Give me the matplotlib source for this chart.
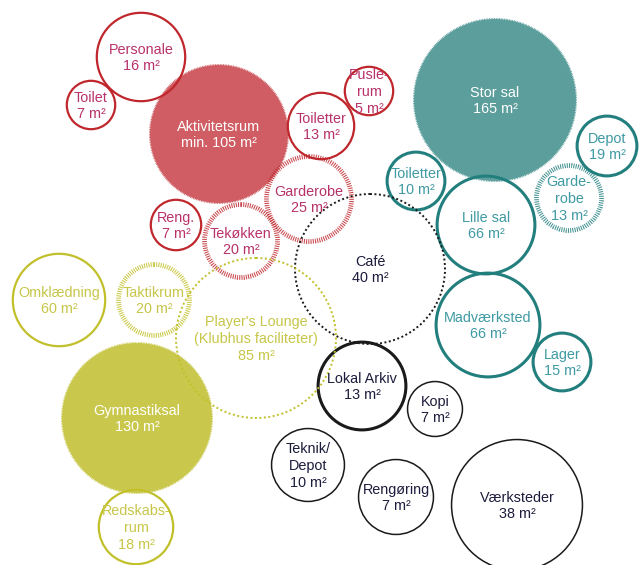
import matplotlib.pyplot as plt
from matplotlib.patches import Circle

# Room labels and areas (m²) per group
labels = ['Personale', 'Toilet', 'Aktivitetsrum', 'Pusle-\nrum', 'Toiletter', 'Garderobe', 'Tekøkken', 'Reng.',
          'Stor sal', 'Depot', 'Toiletter', 'Lille sal', 'Garde-\nrobe', 'Madværksted', 'Lager',
          'Café', 'Lokal Arkiv', 'Kopi', 'Teknik/\nDepot', 'Rengøring', 'Værksteder',
          'Omklædning', 'Taktikrum', "Player's Lounge\n(Klubhus faciliteter)", 'Gymnastiksal', 'Redskabs-\nrum']
areas = ['16', '7', 'min. 105', '5', '13', '25', '20', '7',
         '165', '19', '10', '66', '13', '66', '15',
         '40', '13', '7', '10', '7', '38',
         '60', '20', '85', '130', '18']
groups = ['red'] * 8 + ['teal'] * 7 + ['black'] * 6 + ['olive'] * 5
kinds = ['solid', 'solid', 'filled', 'solid', 'solid', 'hatch', 'hatch', 'solid',
         'filled', 'solid', 'solid', 'solid', 'hatch', 'solid', 'solid',
         'dotted', 'thick', 'solid', 'solid', 'solid', 'solid',
         'solid', 'hatch', 'dotted', 'filled', 'solid']

# bubble layout (pixels)
cx = [141, 91, 219, 369, 321, 309, 241, 176,
      495, 607, 416, 486, 569, 488, 562,
      370, 362, 435, 308, 396, 517,
      59, 154, 256, 137, 136]
cy = [57, 105, 134, 91, 126, 199, 241, 225,
      100, 146, 181, 225, 198, 325, 362,
      269, 386, 409, 465, 497, 505,
      300, 300, 338, 418, 527]
rad = [45, 25, 70, 25, 34, 44, 38, 26,
       82, 31, 30, 50, 34, 53, 30,
       75, 45, 28, 37, 38, 66,
       47, 37, 80, 76, 38]

edge = {'red': '#c0272d', 'teal': '#237f7e', 'black': '#1a1a1a', 'olive': '#c2c02a'}
fill = {'red': '#cf5d63', 'teal': '#5b9e9c', 'black': '#333333', 'olive': '#c9c84c'}
txt = {'red': '#b8326a', 'teal': '#3f9aa3', 'black': '#1c1c3c', 'olive': '#c7c64a'}

plt.rcParams['font.family'] = ['Liberation Sans', 'DejaVu Sans']

fig = plt.figure(figsize=(6.41, 5.65), dpi=100)
ax = fig.add_axes([0, 0, 1, 1])
ax.set_xlim(0, 641)
ax.set_ylim(565, 0)
ax.axis('off')

for i in range(len(labels)):
    g = groups[i]
    k = kinds[i]
    if k == 'filled':
        c = Circle((cx[i], cy[i]), rad[i], facecolor=fill[g], edgecolor='white', lw=1.5,
                   linestyle=(0, (0.4, 0.4)), zorder=1)
        ax.add_patch(c)
        tc = 'white'
    elif k == 'hatch':
        c = Circle((cx[i], cy[i]), rad[i] - 1.5, facecolor='none', edgecolor=edge[g], lw=3.4,
                   linestyle=(0, (0.22, 0.25)), alpha=0.85, zorder=2)
        ax.add_patch(c)
        tc = txt[g]
    elif k == 'dotted':
        c = Circle((cx[i], cy[i]), rad[i], facecolor='none', edgecolor=edge[g], lw=1.4,
                   linestyle=(0, (1, 1.3)), zorder=2)
        ax.add_patch(c)
        tc = txt[g]
    else:
        lw = 2.2 if g == 'teal' else 1.6
        if g == 'black':
            lw = 2.2 if k == 'thick' else 1.1
        c = Circle((cx[i], cy[i]), rad[i] - lw / 2, facecolor='none', edgecolor=edge[g], lw=lw, zorder=2)
        ax.add_patch(c)
        tc = txt[g]
    ax.text(cx[i], cy[i] + 1, labels[i] + '\n' + areas[i] + ' m²', ha='center', va='center',
            color=tc, fontsize=10.4, linespacing=1.25, zorder=3)

fig.savefig('out.png', dpi=100)
